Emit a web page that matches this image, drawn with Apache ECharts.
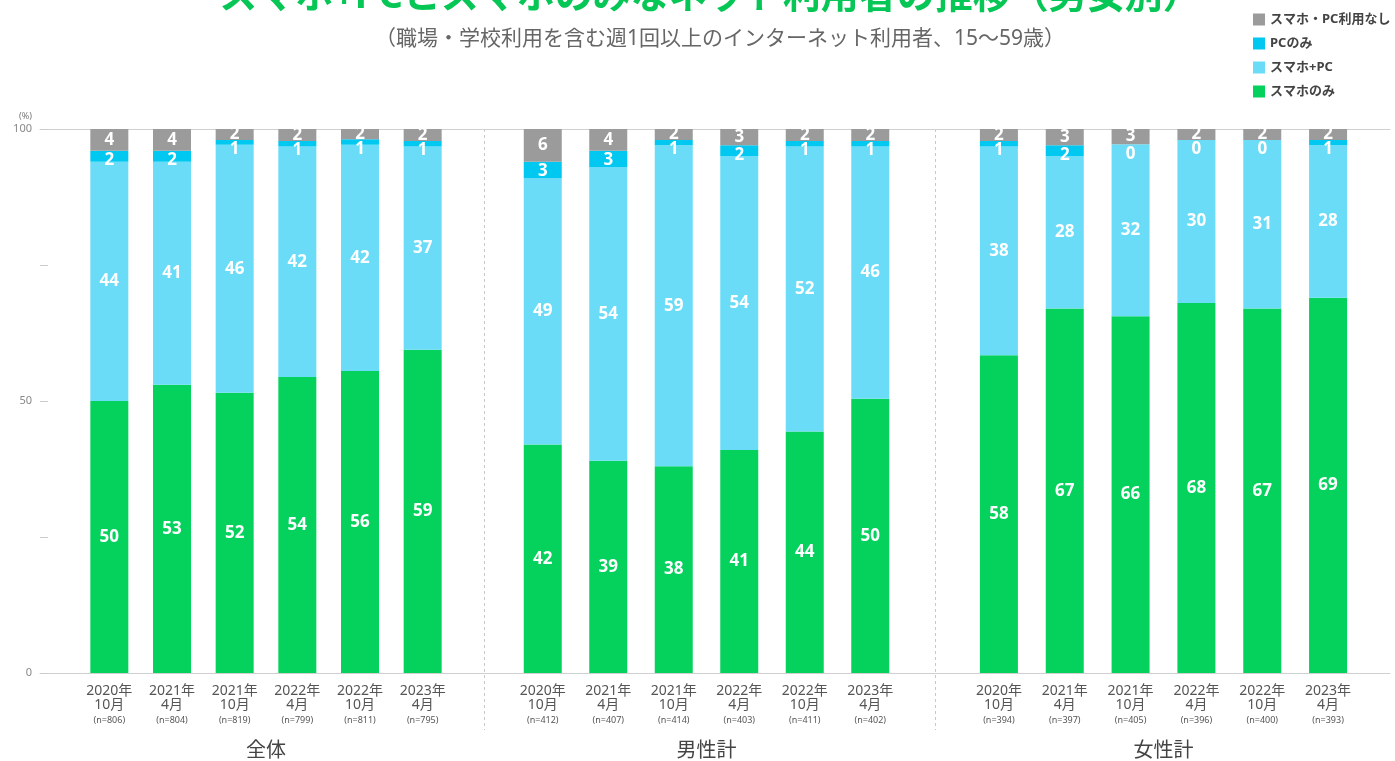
<!DOCTYPE html>
<html><head><meta charset="utf-8">
<script src="https://cdn.jsdelivr.net/npm/echarts@6/dist/echarts.min.js"></script>
<style>html,body{margin:0;padding:0;background:#fff}#c{width:1395px;height:761px}</style>
</head><body><div id="c"></div>
<script>
const groupNames = ['全体', '男性計', '女性計'];
const periods = [['2020年','10月'],['2021年','4月'],['2021年','10月'],['2022年','4月'],['2022年','10月'],['2023年','4月']];
const sampleSizes = [
  [806, 804, 819, 799, 811, 795],
  [412, 407, 414, 403, 411, 402],
  [394, 397, 405, 396, 400, 393]
];
const seriesNames = ['スマホのみ', 'スマホ+PC', 'PCのみ', 'スマホ・PC利用なし'];
// values; labels show them rounded
const smartphoneOnly = [
  [50, 53, 51.5, 54.4, 55.5, 59.4],
  [42, 39, 38, 41, 44.4, 50.4],
  [58.4, 67, 65.6, 68, 67, 69]
];
const smartphonePC = [
  [44, 41, 45.6, 42.4, 41.6, 37.4],
  [49, 54, 59, 54, 52.4, 46.4],
  [38.4, 28, 31.6, 30, 31, 28]
];
const pcOnly = [
  [2, 2, 0.9, 1, 1, 1],
  [3, 3, 1, 2, 1, 1],
  [1, 2, 0, 0, 0, 1]
];
const noUse = [
  [4, 4, 2, 2.2, 1.9, 2.2],
  [6, 4, 2, 3, 2.2, 2.2],
  [2.2, 3, 2.8, 2, 2, 2]
];
const yTicks = [0, 50, 100];

const colors = ['#05d25c', '#6adcf7', '#00c8f0', '#9b9b9b'];
const dataSets = [smartphoneOnly, smartphonePC, pcOnly, noUse];
const barGrids = [
  {left: 78, width: 376},
  {left: 510, width: 393},
  {left: 966, width: 395}
];
const TOP = 129, BOTTOM = 88;
const font = '"Noto Sans", "Noto Sans CJK JP", sans-serif';

const grid = [
  {left: 40, right: 5, top: TOP, bottom: BOTTOM, outerBoundsMode: 'none', containLabel: false},
  {left: 33, width: 1353, top: TOP, bottom: 31, outerBoundsMode: 'none', containLabel: false}
];
barGrids.forEach(g => grid.push({left: g.left, width: g.width, top: TOP, bottom: BOTTOM, outerBoundsMode: 'none', containLabel: false}));

const xAxis = [
  {gridIndex: 0, type: 'value', min: 0, max: 1, axisLine: {show: true, lineStyle: {color: '#d0d0d0'}}, axisTick: {show: false}, axisLabel: {show: false}, splitLine: {show: false}},
  {gridIndex: 0, type: 'value', position: 'top', min: 0, max: 1, axisLine: {show: true, onZero: false, lineStyle: {color: '#d0d0d0'}}, axisTick: {show: false}, axisLabel: {show: false}, splitLine: {show: false}},
  {gridIndex: 1, type: 'value', min: 0, max: groupNames.length, interval: 1, axisLine: {show: false}, axisTick: {show: false}, axisLabel: {show: false},
   splitLine: {show: true, showMinLine: false, showMaxLine: false, lineStyle: {color: '#c8c8c8', type: [3, 3]}}}
];
const yAxis = [
  {gridIndex: 0, type: 'value', min: 0, max: 100, interval: 25,
   name: '(%)', nameLocation: 'end', nameGap: 8,
   nameTextStyle: {fontSize: 9, color: '#777', align: 'right', padding: [0, 8, 0, 0], fontFamily: font},
   axisLine: {show: false}, axisTick: {show: true, inside: true, length: 8, lineStyle: {color: '#ccc'}},
   axisLabel: {fontSize: 11, color: '#888', margin: 8, fontFamily: font, formatter: v => yTicks.includes(v) ? String(v) : ''},
   splitLine: {show: false}},
  {gridIndex: 1, type: 'value', min: 0, max: 100, show: false}
];
barGrids.forEach((g, i) => {
  xAxis.push({
    gridIndex: i + 2, type: 'category',
    data: periods.map((p, k) => p[0] + '\n' + p[1] + '\n{n|(n=' + sampleSizes[i][k] + ')}'),
    name: groupNames[i], nameLocation: 'middle', nameGap: 68,
    nameTextStyle: {fontSize: 20, color: '#444', fontFamily: font},
    axisLine: {show: false}, axisTick: {show: false},
    axisLabel: {interval: 0, margin: 11, color: '#555', fontSize: 14, lineHeight: 14, fontFamily: font,
      rich: {n: {fontSize: 9, color: '#555', lineHeight: 16, fontFamily: font}}}
  });
  yAxis.push({gridIndex: i + 2, type: 'value', min: 0, max: 100, show: false});
});

const series = [];
barGrids.forEach((g, i) => {
  dataSets.forEach((ds, s) => {
    const isPC = s === 2;
    series.push({
      name: seriesNames[s], type: 'bar', stack: 'g' + i,
      xAxisIndex: i + 3, yAxisIndex: i + 2, barWidth: 38,
      itemStyle: {color: colors[s]},
      label: {show: true, position: isPC ? 'insideTop' : 'inside', distance: isPC ? 1 : 5,
        formatter: p => String(Math.round(p.value)),
        color: '#fff', fontSize: 17, fontWeight: 'bold', fontFamily: font},
      data: ds[i]
    });
  });
});

const option = {
  animation: false,
  backgroundColor: '#fff',
  title: [
    {text: 'スマホ+PCとスマホのみなネット利用者の推移（男女別）', left: 705, top: -27, textAlign: 'center',
     textStyle: {fontSize: 38, fontWeight: 'bold', color: '#06c755', fontFamily: font}},
    {text: '（職場・学校利用を含む週1回以上のインターネット利用者、15〜59歳）', left: 715, top: 24, textAlign: 'center',
     textStyle: {fontSize: 21, fontWeight: 'normal', color: '#666', fontFamily: font}}
  ],
  legend: {
    orient: 'vertical', left: 1248, top: 8, itemWidth: 12, itemHeight: 12, itemGap: 11, icon: 'rect',
    data: ['スマホ・PC利用なし', 'PCのみ', 'スマホ+PC', 'スマホのみ'],
    textStyle: {fontSize: 13, color: '#444', fontFamily: font, fontWeight: 'bold'}
  },
  grid, xAxis, yAxis, series
};
echarts.init(document.getElementById('c')).setOption(option);
</script>
</body></html>
